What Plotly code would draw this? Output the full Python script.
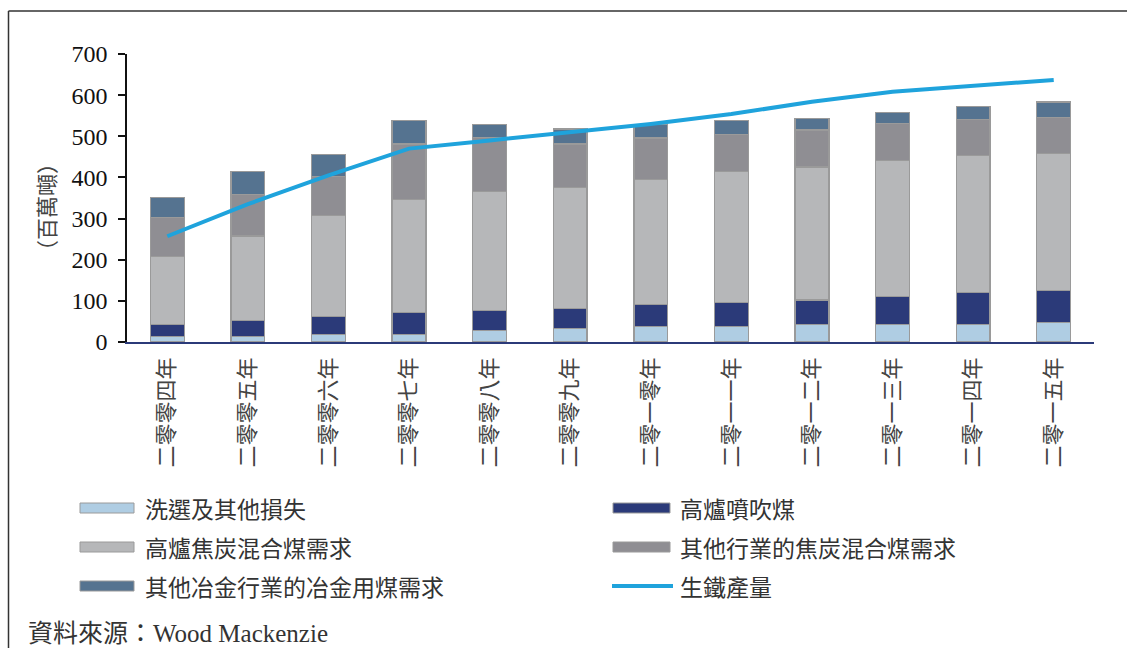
import plotly.graph_objects as go

years = ["二零零四年", "二零零五年", "二零零六年", "二零零七年", "二零零八年", "二零零九年",
         "二零一零年", "二零一一年", "二零一二年", "二零一三年", "二零一四年", "二零一五年"]

washing_loss = [14, 14, 19, 18, 28, 33, 37, 37, 43, 43, 43, 47]
pci_coal = [28, 38, 43, 54, 48, 48, 54, 59, 59, 68, 78, 79]
bf_coke_blend = [166, 206, 245, 274, 289, 294, 304, 319, 323, 330, 333, 333]
other_coke_blend = [95, 100, 95, 135, 132, 106, 101, 90, 90, 90, 86, 86]
other_met_coal = [49, 57, 53, 57, 32, 37, 32, 33, 28, 27, 32, 38]
pig_iron = [257, 335, 405, 470, 490, 509, 530, 554, 584, 608, 623, 637]

bar_names = ["洗選及其他損失", "高爐噴吹煤", "高爐焦炭混合煤需求", "其他行業的焦炭混合煤需求", "其他冶金行業的冶金用煤需求"]
line_name = "生鐵產量"
bar_series = [washing_loss, pci_coal, bf_coke_blend, other_coke_blend, other_met_coal]
bar_colors = ["#AFCDE3", "#2B3A79", "#B6B7B9", "#8F8E93", "#557390"]
line_color = "#1FA3DC"
y_title = "（百萬噸）"
source_text = "資料來源：Wood Mackenzie"

W, H = 1127, 648
L, R, T, B = 127, 1094, 54, 342

def px(x):
    return (x - L) / (R - L)

def py(y):
    return (B - y) / (B - T)

SERIF = "Liberation Serif, Times New Roman, Noto Sans CJK TC, serif"
CJK = "Noto Sans CJK TC, Liberation Serif, sans-serif"

fig = go.Figure()
for name, vals, col in zip(bar_names, bar_series, bar_colors):
    fig.add_trace(go.Bar(x=years, y=vals, name=name, marker=dict(color=col, line=dict(color="#9A9A9A", width=1.3)),
                         width=0.42, showlegend=False))
fig.add_trace(go.Scatter(x=years, y=pig_iron, name=line_name, mode="lines",
                         line=dict(color=line_color, width=4), showlegend=False))

shapes = []
annotations = []
# outer frame (top and left)
shapes.append(dict(type="line", xref="paper", yref="paper", x0=px(8.5), x1=px(1130), y0=py(11), y1=py(11),
                   line=dict(color="#333333", width=1.5)))
shapes.append(dict(type="line", xref="paper", yref="paper", x0=px(8.5), x1=px(8.5), y0=py(11), y1=py(660),
                   line=dict(color="#333333", width=1.5)))

# custom legend
legend_slots = [(80, 134, 143, 508), (613, 670, 678, 508), (80, 134, 143, 547),
                (613, 670, 678, 547), (80, 134, 143, 586)]
for (sx0, sx1, tx, cy), name, col in zip(legend_slots, bar_names, bar_colors):
    shapes.append(dict(type="rect", xref="paper", yref="paper", x0=px(sx0), x1=px(sx1), y0=py(cy - 5), y1=py(cy + 5),
                       fillcolor=col, line=dict(color="#9A9A9A", width=1)))
    annotations.append(dict(xref="paper", yref="paper", x=px(tx), y=py(cy), text=name, showarrow=False,
                            xanchor="left", yanchor="middle", font=dict(family=CJK, size=23, color="#333333")))
shapes.append(dict(type="line", xref="paper", yref="paper", x0=px(612), x1=px(673), y0=py(586), y1=py(586),
                   line=dict(color=line_color, width=4)))
annotations.append(dict(xref="paper", yref="paper", x=px(678), y=py(586), text=line_name, showarrow=False,
                        xanchor="left", yanchor="middle", font=dict(family=CJK, size=23, color="#333333")))

annotations.append(dict(xref="paper", yref="paper", x=px(45), y=py(207), text=y_title, showarrow=False,
                        textangle=-90, xanchor="center", yanchor="middle",
                        font=dict(family=CJK, size=22, color="#444444")))
annotations.append(dict(xref="paper", yref="paper", x=px(26), y=py(633), text=source_text, showarrow=False,
                        xanchor="left", yanchor="middle", font=dict(family=SERIF, size=25, color="#333333")))

fig.update_layout(
    width=W, height=H, barmode="stack", bargap=0.58,
    margin=dict(l=L, r=W - R, t=T, b=H - B, pad=0),
    paper_bgcolor="white", plot_bgcolor="white",
    shapes=shapes, annotations=annotations,
    xaxis=dict(type="category", range=[-0.5, 11.5], showline=True, linecolor="#2B3A79", linewidth=1.5,
               ticks="", tickangle=-90, showgrid=False, zeroline=False,
               tickfont=dict(family=CJK, size=22, color="#444444"), ticklabelstandoff=5),
    yaxis=dict(range=[0, 700], dtick=100, showline=True, linecolor="#111111", linewidth=1.5,
               ticks="outside", ticklen=7, tickwidth=1.5, tickcolor="#111111", showgrid=False, zeroline=False,
               tickfont=dict(family=SERIF, size=24, color="#111111"), ticklabelstandoff=6),
)

fig.write_html("out.html", config={"displayModeBar": False},
               post_script="document.body.style.margin='0';")
